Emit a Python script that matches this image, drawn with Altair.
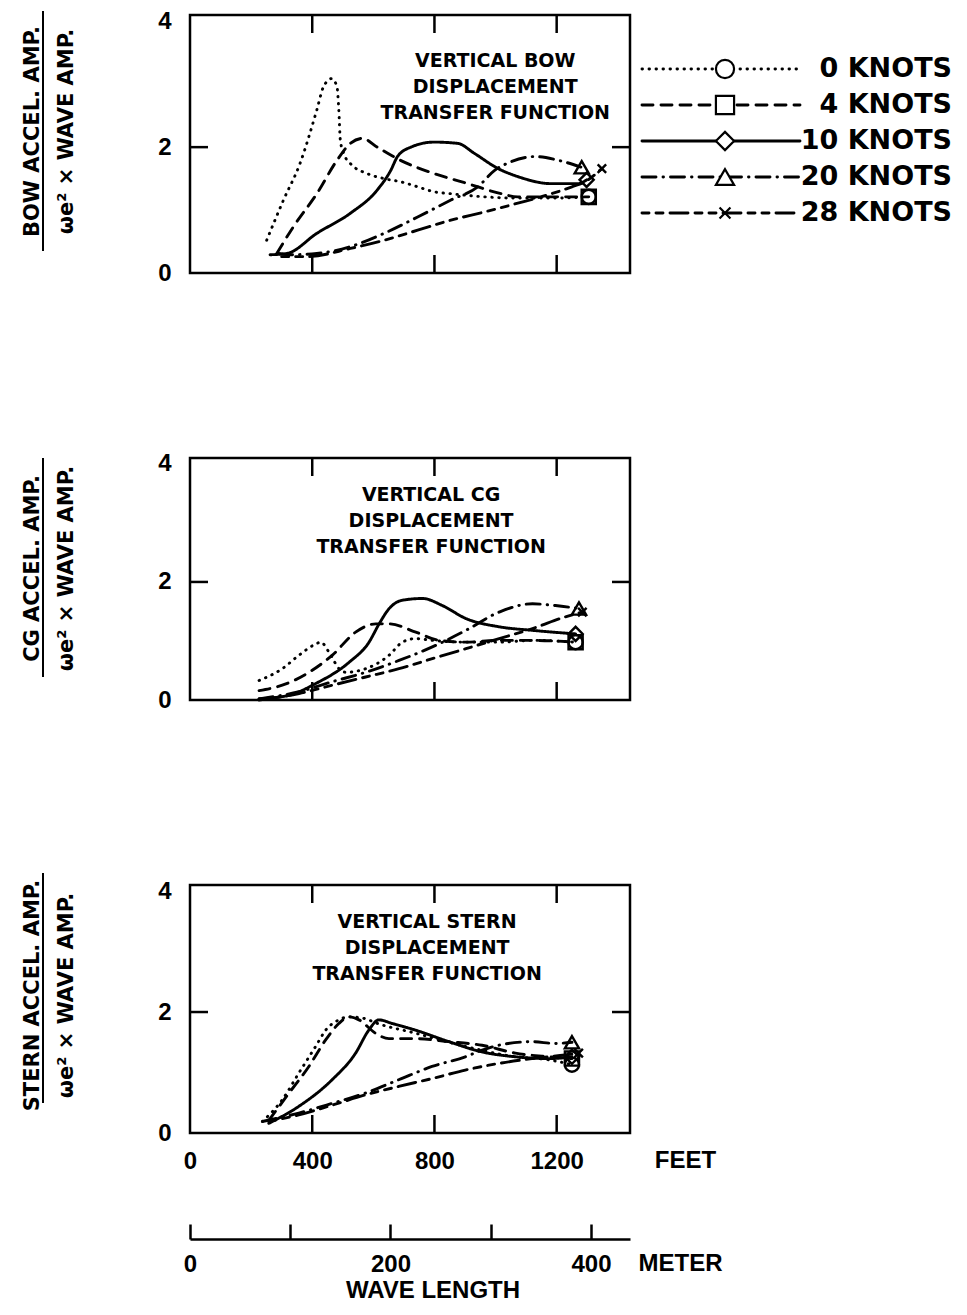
import altair as alt
import pandas as pd

SERIES = ["0 KNOTS", "4 KNOTS", "10 KNOTS", "20 KNOTS", "28 KNOTS"]
DASHES = [[0.5, 6.5], [11, 8], [1, 0], [14, 7, 0.5, 7], [7, 7, 7, 7, 18, 7]]
SHAPES = ["circle", "square", "diamond", "triangle-up",
          "M-0.6,-0.6L0.6,0.6M-0.6,0.6L0.6,-0.6"]

X_TICKS_FT = [0, 400, 800, 1200]
Y_TICKS = [0, 2, 4]
METER_TICKS = [0, 100, 200, 300, 400]

# ---------------- Vertical bow ----------------
BOW_0KN_FT = [251, 306, 360, 415, 437, 464, 481, 487, 492, 503, 525, 580, 635, 689, 745, 799, 854, 964, 1073, 1183, 1305]
BOW_0KN_VAL = [0.52, 1.16, 1.74, 2.59, 2.96, 3.09, 2.96, 2.59, 2.11, 1.90, 1.74, 1.58, 1.50, 1.45, 1.37, 1.29, 1.26, 1.21, 1.19, 1.19, 1.21]
BOW_4KN_FT = [284, 339, 415, 481, 525, 564, 613, 689, 799, 909, 1019, 1073, 1183, 1305]
BOW_4KN_VAL = [0.31, 0.74, 1.26, 1.79, 2.06, 2.14, 2.00, 1.79, 1.58, 1.42, 1.26, 1.21, 1.21, 1.21]
BOW_10KN_FT = [262, 317, 415, 525, 613, 657, 679, 723, 799, 876, 931, 1008, 1074, 1183, 1271, 1298]
BOW_10KN_VAL = [0.29, 0.31, 0.63, 0.95, 1.32, 1.63, 1.85, 2.00, 2.08, 2.06, 1.90, 1.66, 1.53, 1.42, 1.42, 1.48]
BOW_20KN_FT = [290, 327, 415, 525, 635, 745, 854, 942, 997, 1052, 1129, 1206, 1282]
BOW_20KN_VAL = [0.31, 0.29, 0.31, 0.42, 0.63, 0.89, 1.16, 1.37, 1.63, 1.77, 1.85, 1.79, 1.68]
BOW_28KN_FT = [300, 382, 525, 635, 745, 854, 964, 1073, 1183, 1250, 1293, 1348]
BOW_28KN_VAL = [0.26, 0.26, 0.39, 0.52, 0.68, 0.84, 0.97, 1.11, 1.26, 1.37, 1.45, 1.66]

# ---------------- Vertical CG ----------------
CG_0KN_FT = [226, 302, 357, 412, 428, 455, 488, 510, 575, 652, 695, 739, 794, 903, 1012, 1121, 1262]
CG_0KN_VAL = [0.33, 0.53, 0.76, 0.95, 0.98, 0.81, 0.53, 0.47, 0.53, 0.76, 0.98, 1.04, 1.01, 0.98, 0.98, 1.01, 0.98]
CG_4KN_FT = [226, 302, 390, 466, 542, 608, 651, 739, 815, 903, 1012, 1121, 1262]
CG_4KN_VAL = [0.16, 0.25, 0.47, 0.76, 1.15, 1.29, 1.29, 1.15, 1.01, 0.98, 1.01, 1.01, 0.98]
CG_10KN_FT = [226, 324, 412, 521, 586, 619, 652, 695, 761, 826, 903, 1012, 1121, 1262]
CG_10KN_VAL = [0.02, 0.08, 0.28, 0.64, 0.98, 1.29, 1.55, 1.69, 1.72, 1.60, 1.38, 1.24, 1.18, 1.12]
CG_20KN_FT = [226, 357, 466, 575, 684, 793, 903, 1012, 1121, 1196, 1273]
CG_20KN_VAL = [0.02, 0.14, 0.31, 0.47, 0.67, 0.90, 1.18, 1.49, 1.63, 1.60, 1.55]
CG_28KN_FT = [226, 357, 466, 575, 684, 793, 903, 1012, 1121, 1229, 1284]
CG_28KN_VAL = [0.00, 0.11, 0.25, 0.39, 0.53, 0.70, 0.87, 1.04, 1.21, 1.41, 1.49]

# ---------------- Vertical stern ----------------
STERN_0KN_FT = [237, 302, 356, 411, 444, 487, 520, 564, 620, 738, 902, 1065, 1174, 1250]
STERN_0KN_VAL = [0.19, 0.55, 0.99, 1.43, 1.70, 1.87, 1.92, 1.90, 1.80, 1.65, 1.43, 1.26, 1.21, 1.13]
STERN_4KN_FT = [258, 324, 389, 444, 487, 520, 553, 607, 651, 738, 847, 956, 1065, 1174, 1250]
STERN_4KN_VAL = [0.21, 0.66, 1.10, 1.54, 1.81, 1.92, 1.87, 1.65, 1.56, 1.56, 1.51, 1.45, 1.32, 1.26, 1.23]
STERN_10KN_FT = [258, 356, 465, 542, 585, 618, 662, 738, 847, 956, 1065, 1174, 1250]
STERN_10KN_VAL = [0.16, 0.44, 0.88, 1.32, 1.70, 1.87, 1.81, 1.70, 1.51, 1.34, 1.26, 1.23, 1.26]
STERN_20KN_FT = [237, 356, 465, 574, 683, 792, 901, 956, 1010, 1119, 1196, 1250]
STERN_20KN_VAL = [0.19, 0.33, 0.49, 0.66, 0.88, 1.10, 1.26, 1.37, 1.45, 1.51, 1.48, 1.50]
STERN_28KN_FT = [258, 356, 465, 574, 683, 792, 901, 1010, 1119, 1228, 1272]
STERN_28KN_VAL = [0.19, 0.30, 0.46, 0.63, 0.77, 0.90, 1.04, 1.15, 1.23, 1.29, 1.32]

BOW_NOTE = ["VERTICAL BOW", "DISPLACEMENT", "TRANSFER FUNCTION"]
CG_NOTE = ["VERTICAL CG", "DISPLACEMENT", "TRANSFER FUNCTION"]
STERN_NOTE = ["VERTICAL STERN", "DISPLACEMENT", "TRANSFER FUNCTION"]
DENOM = "\u03c9e\u00b2 \u00d7 WAVE AMP."

W = 440
NUM_FONT = "Liberation Sans"
WIDE_FONT = "DejaVu Sans"


def long_df(ft_lists, val_lists):
    rows = []
    for s, fts, vals in zip(SERIES, ft_lists, val_lists):
        for f, v in zip(fts, vals):
            rows.append({"series": s, "ft": f, "val": v})
    return pd.DataFrame(rows)


def panel(df, h, num, title_y, bar_y, note, note_ft, note_val, bottom):
    if bottom:
        x_axis = alt.Axis(values=X_TICKS_FT, format="d", ticks=False, tickSize=0,
                          domain=False, grid=False, labelPadding=16, labelFlush=False,
                          labelFont=NUM_FONT, labelFontSize=24, labelFontWeight="bold",
                          labelColor="black",
                          title="FEET", titleX=495, titleY=27, titleAlign="center",
                          titleBaseline="middle", titleFont=NUM_FONT, titleFontSize=24,
                          titleFontWeight="bold", titleAngle=0, titleColor="black")
    else:
        x_axis = None
    xenc = alt.X("ft:Q", scale=alt.Scale(domain=[0, 1440], nice=False, zero=False), axis=x_axis)
    yenc = alt.Y("val:Q", scale=alt.Scale(domain=[0, 4.1], nice=False, zero=False),
                 axis=alt.Axis(values=Y_TICKS, format="d", ticks=False, tickSize=0,
                               domain=False, grid=False, labelPadding=19, labelFlush=False,
                               labelFont=NUM_FONT, labelFontSize=24, labelFontWeight="bold",
                               labelColor="black",
                               title=[num, DENOM], titleFont=WIDE_FONT, titleFontSize=21,
                               titleFontWeight="bold", titleAngle=270, titleAlign="center",
                               titleBaseline="middle", titleLineHeight=34, titleColor="black",
                               titleX=-158, titleY=title_y))
    dash = alt.StrokeDash("series:N", scale=alt.Scale(domain=SERIES, range=DASHES), legend=None)
    shape = alt.Shape("series:N", scale=alt.Scale(domain=SERIES, range=SHAPES), legend=None)

    lines = alt.Chart(df).mark_line(color="black", strokeWidth=2.9, strokeCap="round",
                                    interpolate="monotone").encode(x=xenc, y=yenc, strokeDash=dash)
    ends = df.groupby("series", sort=False).tail(1)
    pts = alt.Chart(ends).mark_point(filled=False, color="black", strokeWidth=2.4, size=200,
                                     opacity=1).encode(x=xenc, y=yenc, shape=shape)
    txt = alt.Chart(pd.DataFrame({"ft": [note_ft], "val": [note_val]})).mark_text(
        text=note, lineHeight=26, font=WIDE_FONT, fontSize=19, fontWeight="bold",
        color="black", align="center", baseline="middle").encode(x=xenc, y=yenc)
    xt = pd.DataFrame({"ft": X_TICKS_FT[1:]})
    tick_top = alt.Chart(xt).mark_rule(color="black", strokeWidth=2.5).encode(
        x=xenc, y=alt.value(0), y2=alt.value(18))
    tick_bot = alt.Chart(xt).mark_rule(color="black", strokeWidth=2.5).encode(
        x=xenc, y=alt.value(h), y2=alt.value(h - 18))
    yt = pd.DataFrame({"val": [Y_TICKS[1]]})
    tick_l = alt.Chart(yt).mark_rule(color="black", strokeWidth=2.5).encode(
        y=yenc, x=alt.value(0), x2=alt.value(18))
    tick_r = alt.Chart(yt).mark_rule(color="black", strokeWidth=2.5).encode(
        y=yenc, x=alt.value(W), x2=alt.value(W - 18))
    bar = alt.Chart(pd.DataFrame({"k": [0]})).mark_rule(color="black", strokeWidth=2).encode(
        x=alt.value(-147), y=alt.value(bar_y[0]), y2=alt.value(bar_y[1]))
    layers = [lines, pts, txt, tick_top, tick_bot, tick_l, tick_r, bar]
    if bottom:
        wl = alt.Chart(pd.DataFrame({"k": [0]})).mark_text(
            text="WAVE LENGTH", font=NUM_FONT, fontSize=24, fontWeight="bold", color="black",
            align="center", baseline="middle").encode(x=alt.value(243), y=alt.value(406))
        layers.append(wl)
    return alt.layer(*layers).properties(width=W, height=h)


bow_df = long_df([BOW_0KN_FT, BOW_4KN_FT, BOW_10KN_FT, BOW_20KN_FT, BOW_28KN_FT],
                 [BOW_0KN_VAL, BOW_4KN_VAL, BOW_10KN_VAL, BOW_20KN_VAL, BOW_28KN_VAL])
cg_df = long_df([CG_0KN_FT, CG_4KN_FT, CG_10KN_FT, CG_20KN_FT, CG_28KN_FT],
                [CG_0KN_VAL, CG_4KN_VAL, CG_10KN_VAL, CG_20KN_VAL, CG_28KN_VAL])
stern_df = long_df([STERN_0KN_FT, STERN_4KN_FT, STERN_10KN_FT, STERN_20KN_FT, STERN_28KN_FT],
                   [STERN_0KN_VAL, STERN_4KN_VAL, STERN_10KN_VAL, STERN_20KN_VAL, STERN_28KN_VAL])

H_TOP, H_MID, H_BOT = 258, 242, 248

bow_main = panel(bow_df, H_TOP, "BOW ACCEL. AMP.", 116, (-4, 236), BOW_NOTE, 999, 3.37, False)
cg_main = panel(cg_df, H_MID, "CG ACCEL. AMP.", 110, (0, 219), CG_NOTE, 789, 3.47, False)
stern_main = panel(stern_df, H_BOT, "STERN ACCEL. AMP.", 110, (-12, 218), STERN_NOTE, 776, 3.49, True)

# legend (drawn beside the top panel)
leg_df = pd.DataFrame({"series": SERIES})
leg_y = alt.Y("series:N", scale=alt.Scale(type="point", domain=SERIES, range=[54, 198], padding=0),
              axis=None)
leg_dash = alt.StrokeDash("series:N", scale=alt.Scale(domain=SERIES, range=DASHES), legend=None)
leg_shape = alt.Shape("series:N", scale=alt.Scale(domain=SERIES, range=SHAPES), legend=None)
leg_line = alt.Chart(leg_df).mark_rule(color="black", strokeWidth=2.9, strokeCap="round").encode(
    x=alt.value(452), x2=alt.value(610), y=leg_y, strokeDash=leg_dash)
leg_pt = alt.Chart(leg_df).mark_point(filled=True, fill="white", stroke="black", strokeWidth=2.2,
                                      size=330, opacity=1).encode(
    x=alt.value(535), y=leg_y, shape=leg_shape)
leg_txt = alt.Chart(leg_df).mark_text(align="right", baseline="middle", font=WIDE_FONT,
                                      fontSize=27, fontWeight="bold", color="black").encode(
    x=alt.value(762), y=leg_y, text="series:N")
legend = alt.layer(leg_line, leg_pt, leg_txt)

top = alt.layer(bow_main, legend).resolve_scale(y="independent")

# meter axis under the bottom panel
meter_layer = alt.Chart(pd.DataFrame({"m": METER_TICKS})).mark_point(opacity=0).encode(
    x=alt.X("m:Q", scale=alt.Scale(domain=[0, 1440 / 3.2808], nice=False, zero=False),
            axis=alt.Axis(orient="top", offset=-354, values=METER_TICKS, format="d",
                          labelExpr="datum.value % 200 === 0 ? datum.label : ''",
                          ticks=True, tickSize=15, tickWidth=2.5, tickColor="black",
                          domain=True, domainWidth=2.5, domainColor="black", grid=False,
                          labelBaseline="top", labelPadding=-28, labelFlush=False,
                          labelFont=NUM_FONT, labelFontSize=24, labelFontWeight="bold",
                          labelColor="black",
                          title="METER", titleX=490, titleY=24, titleAlign="center",
                          titleBaseline="middle", titleFont=NUM_FONT, titleFontSize=24,
                          titleFontWeight="bold", titleAngle=0, titleColor="black")))
bottom = alt.layer(stern_main, meter_layer).resolve_scale(x="independent")

chart = alt.vconcat(top, cg_main, bottom, spacing=185, bounds="flush").properties(
    padding={"left": 11, "top": 0, "right": -2, "bottom": -3},
    background="white"
).configure_view(stroke="black", strokeWidth=2.5).configure_axis(
    labelFont=NUM_FONT, labelFontSize=24, labelFontWeight="bold", labelColor="black",
    titleColor="black", grid=False
)

chart.save("out.html", embed_options={"renderer": "svg", "actions": False})
